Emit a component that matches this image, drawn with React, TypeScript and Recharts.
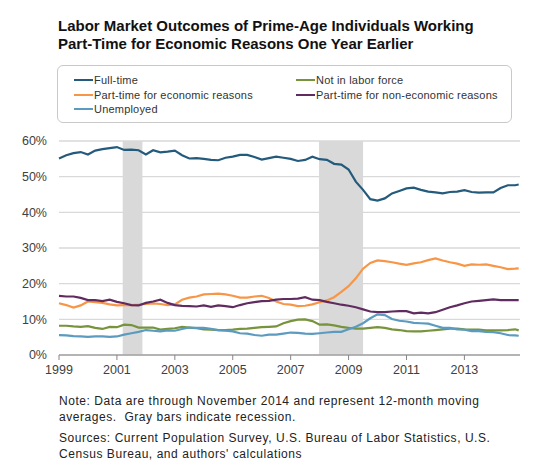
import React from 'react';
import { LineChart, Line, XAxis, YAxis, CartesianGrid, ReferenceArea } from 'recharts';

// quarterly readings, last point is November 2014
const dates = [
  1999, 1999.25, 1999.5, 1999.75, 2000, 2000.25, 2000.5, 2000.75,
  2001, 2001.25, 2001.5, 2001.75, 2002, 2002.25, 2002.5, 2002.75,
  2003, 2003.25, 2003.5, 2003.75, 2004, 2004.25, 2004.5, 2004.75,
  2005, 2005.25, 2005.5, 2005.75, 2006, 2006.25, 2006.5, 2006.75,
  2007, 2007.25, 2007.5, 2007.75, 2008, 2008.25, 2008.5, 2008.75,
  2009, 2009.25, 2009.5, 2009.75, 2010, 2010.25, 2010.5, 2010.75,
  2011, 2011.25, 2011.5, 2011.75, 2012, 2012.25, 2012.5, 2012.75,
  2013, 2013.25, 2013.5, 2013.75, 2014, 2014.25, 2014.5, 2014.75, 2014.875,
];

const fullTime = [
  55.1, 56.0, 56.6, 56.9, 56.2, 57.3, 57.7, 58.0,
  58.3, 57.5, 57.6, 57.4, 56.2, 57.4, 56.8, 57.0,
  57.3, 56.0, 55.1, 55.2, 55.0, 54.7, 54.6, 55.3,
  55.6, 56.1, 56.1, 55.5, 54.8, 55.2, 55.6, 55.3,
  55.0, 54.4, 54.7, 55.6, 54.9, 54.7, 53.6, 53.4,
  52.0, 48.6, 46.3, 43.7, 43.3, 43.9, 45.3, 46.0,
  46.7, 46.9, 46.3, 45.8, 45.6, 45.3, 45.7, 45.8,
  46.2, 45.7, 45.5, 45.6, 45.6, 46.8, 47.6, 47.6, 47.8,
];

const notInLaborForce = [
  8.2, 8.2, 8.0, 7.9, 8.1, 7.6, 7.3, 7.9,
  7.8, 8.5, 8.4, 7.7, 7.7, 7.7, 7.1, 7.3,
  7.5, 7.9, 7.7, 7.5, 7.2, 7.1, 7.0, 7.0,
  7.1, 7.3, 7.4, 7.6, 7.8, 7.9, 8.0, 8.9,
  9.5, 9.9, 10.0, 9.5, 8.5, 8.6, 8.3, 7.9,
  7.6, 7.4, 7.4, 7.6, 7.8, 7.6, 7.2, 7.0,
  6.7, 6.6, 6.6, 6.8, 7.0, 7.2, 7.4, 7.4,
  7.2, 7.1, 7.1, 6.9, 6.9, 6.9, 7.0, 7.2, 6.9,
];

const ptEconomic = [
  14.5, 14.0, 13.3, 13.9, 15.0, 14.8, 14.6, 14.2,
  13.9, 14.0, 14.0, 14.1, 14.3, 14.5, 14.3, 14.0,
  14.2, 15.5, 16.1, 16.4, 17.0, 17.1, 17.2, 17.0,
  16.6, 16.1, 16.1, 16.4, 16.6, 16.0, 15.0, 14.3,
  14.1, 13.7, 13.8, 14.2, 14.8, 15.3, 16.2, 17.7,
  19.3, 21.5, 24.2, 25.8, 26.5, 26.3, 26.0, 25.6,
  25.3, 25.7, 26.0, 26.6, 27.1, 26.5, 26.0, 25.6,
  25.0, 25.4, 25.3, 25.4, 25.0, 24.6, 24.1, 24.2, 24.3,
];

const ptNonEconomic = [
  16.6, 16.4, 16.4, 16.0, 15.4, 15.4, 15.1, 15.5,
  14.9, 14.5, 14.0, 13.9, 14.6, 15.0, 15.5, 14.6,
  14.0, 13.8, 13.7, 13.6, 13.9, 13.5, 13.9, 13.7,
  13.4, 14.0, 14.5, 14.8, 15.1, 15.2, 15.5, 15.7,
  15.7, 15.8, 16.2, 15.5, 15.4, 14.9, 14.5, 14.1,
  13.8, 13.4, 12.8, 12.2, 12.0, 12.0, 12.2, 12.3,
  12.3, 11.7, 11.9, 11.7, 12.0, 12.7, 13.4, 13.9,
  14.5, 15.0, 15.2, 15.4, 15.6, 15.4, 15.4, 15.4, 15.4,
];

const unemployed = [
  5.6, 5.5, 5.3, 5.2, 5.1, 5.2, 5.2, 5.1,
  5.2, 5.7, 6.1, 6.5, 7.0, 6.8, 6.6, 6.9,
  6.8, 7.3, 7.7, 7.6, 7.6, 7.3, 7.0, 6.8,
  6.6, 6.1, 6.0, 5.6, 5.4, 5.7, 5.7, 6.0,
  6.3, 6.2, 6.0, 5.9, 6.1, 6.3, 6.5, 6.5,
  7.2, 7.9, 8.9, 10.3, 11.4, 11.2, 10.1, 9.6,
  9.4, 9.0, 8.9, 8.8, 8.2, 7.6, 7.6, 7.2,
  7.1, 6.7, 6.7, 6.5, 6.4, 6.1, 5.6, 5.5, 5.4,
];

const yTicks = [0, 10, 20, 30, 40, 50, 60];
const xTicks = [1999, 2001, 2003, 2005, 2007, 2009, 2011, 2013];
const recessions = [
  [2001.2, 2001.88],
  [2007.98, 2009.5],
];

const series = [
  { key: 'fullTime', name: 'Full-time', color: '#245a7c', values: fullTime },
  { key: 'notInLaborForce', name: 'Not in labor force', color: '#77933c', values: notInLaborForce },
  { key: 'ptEconomic', name: 'Part-time for economic reasons', color: '#f79646', values: ptEconomic },
  { key: 'ptNonEconomic', name: 'Part-time for non-economic reasons', color: '#602c60', values: ptNonEconomic },
  { key: 'unemployed', name: 'Unemployed', color: '#5b9bbf', values: unemployed },
];

const data = dates.map((date, i) => {
  const row: any = { date };
  series.forEach((s) => {
    row[s.key] = s.values[i];
  });
  return row;
});

const font = '"Liberation Sans", Arial, sans-serif';

const App = () => {
  return (
    <div style={{ position: 'absolute', left: 0, top: 0, width: 535, height: 474, background: '#fff', fontFamily: font }}>
      <div
        style={{
          position: 'absolute',
          left: 58,
          top: 17,
          fontSize: 15,
          fontWeight: 'bold',
          lineHeight: '17.6px',
          color: '#111',
        }}
      >
        Labor Market Outcomes of Prime-Age Individuals Working
        <br />
        Part-Time for Economic Reasons One Year Earlier
      </div>

      <div
        style={{
          position: 'absolute',
          left: 57,
          top: 65,
          width: 455,
          height: 58,
          border: '1px solid #c9c9c9',
          borderRadius: 6,
          boxSizing: 'border-box',
        }}
      >
        {series.map((s, i) => (
          <div
            key={s.key}
            style={{
              position: 'absolute',
              left: i % 2 === 0 ? 16 : 238,
              top: 7 + Math.floor(i / 2) * 14.7,
              height: 14,
              display: 'flex',
              alignItems: 'center',
              whiteSpace: 'nowrap',
              fontSize: 11,
              letterSpacing: 0.2,
              color: '#333',
            }}
          >
            <span style={{ display: 'inline-block', width: 19, height: 2, background: s.color, marginRight: 1 }} />
            {s.name}
          </div>
        ))}
      </div>

      <div style={{ position: 'absolute', left: 0, top: 0 }}>
        <LineChart width={535} height={474} data={data} margin={{ top: 141, right: 15, left: 0, bottom: 89 }}>
          <CartesianGrid vertical={false} stroke="#d9d9d9" strokeWidth={1.3} />
          {recessions.map(([x1, x2]) => (
            <ReferenceArea
              key={x1}
              x1={x1}
              x2={x2}
              y1={0}
              y2={60}
              fill="#d9d9d9"
              fillOpacity={1}
              stroke="none"
              ifOverflow="visible"
            />
          ))}
          <XAxis
            dataKey="date"
            type="number"
            domain={[1999, 2014.92]}
            ticks={xTicks}
            height={30}
            axisLine={{ stroke: '#868686' }}
            tickLine={{ stroke: '#868686' }}
            tickSize={5}
            tickMargin={5}
            tick={{ fill: '#404040', fontSize: 12.5, fontFamily: font }}
          />
          <YAxis
            domain={[0, 60]}
            ticks={yTicks}
            width={59}
            axisLine={false}
            tickLine={false}
            tickSize={0}
            tickMargin={12}
            tickFormatter={(v) => `${v}%`}
            tick={{ fill: '#404040', fontSize: 12.5, fontFamily: font }}
          />
          {series.map((s) => (
            <Line
              key={s.key}
              type="linear"
              dataKey={s.key}
              name={s.name}
              stroke={s.color}
              strokeWidth={2.2}
              dot={false}
              isAnimationActive={false}
            />
          ))}
        </LineChart>
      </div>

      <div
        style={{
          position: 'absolute',
          left: 59,
          top: 394,
          fontSize: 12,
          letterSpacing: 0.55,
          color: '#222',
          whiteSpace: 'nowrap',
        }}
      >
        <div style={{ lineHeight: '15.5px' }}>
          Note: Data are through November 2014 and represent 12-month moving
          <br />
          averages.&nbsp; Gray bars indicate recession.
        </div>
        <div style={{ lineHeight: '16px', marginTop: 4.5 }}>
          Sources: Current Population Survey, U.S. Bureau of Labor Statistics, U.S.
          <br />
          Census Bureau, and authors' calculations
        </div>
      </div>
    </div>
  );
};

export default App;
